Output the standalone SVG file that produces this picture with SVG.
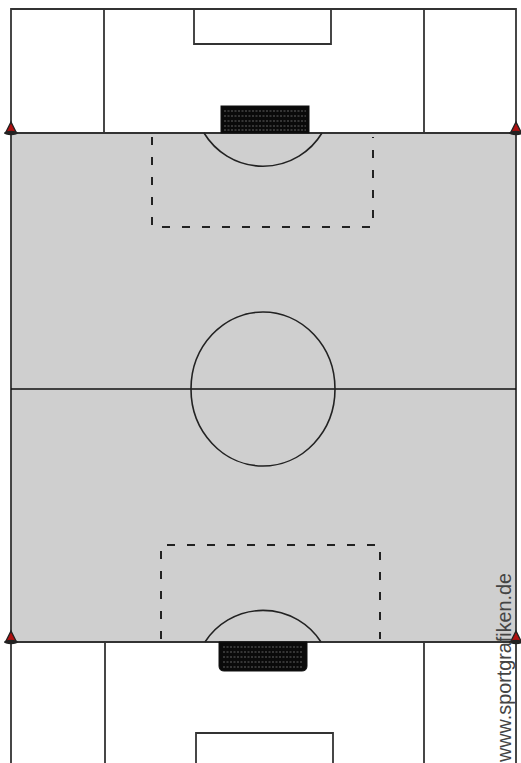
<svg xmlns="http://www.w3.org/2000/svg" width="521" height="763" viewBox="0 0 521 763">
<style>
.ln{fill:none;stroke:#333;stroke-width:1.8}
.ds{fill:none;stroke:#222;stroke-width:2;stroke-dasharray:8 12}
.arc{fill:none;stroke:#222;stroke-width:1.6}
.goal{fill:#0a0a0a;stroke:#111;stroke-width:1}
.net{stroke:#777;stroke-width:0.8;stroke-dasharray:2 1.5}
.cone{fill:#b01010;stroke:#222;stroke-width:1.4}
</style>
<defs>
<g id="coneShape">
<path class="cone" d="M-5.5,4 L0,-7 L5.5,4 Z"/>
<ellipse cx="0" cy="4" rx="7" ry="2.2" fill="#222"/>
</g>
</defs>
<rect width="521" height="763" fill="#fff"/>
<g id="field">
<rect x="11" y="133" width="505" height="509" fill="#cfcfcf"/>
<path class="ln" d="M11,763 V9 H516 V763"/>
<path class="ln" d="M11,133 H516 M11,642 H516"/>
<path class="ln" d="M104,9 V133 M424,9 V133 M105,642 V763 M424,642 V763"/>
<path class="ln" d="M194,9 V44 H331 V9"/>
<path class="ln" d="M196,763 V733 H333 V763"/>
<line x1="11" y1="389" x2="516" y2="389" stroke="#111" stroke-width="1.6"/>
<ellipse cx="263" cy="389" rx="72" ry="77" class="arc"/>
</g>
<g id="top-box">
<path class="ds" d="M152,137 V227 H373 V137"/>
<path class="arc" d="M204,133 A69,69 0 0 0 322,133"/>
</g>
<g id="bottom-box">
<path class="ds" d="M161,639 V545 H380 V639"/>
<path class="arc" d="M205,642 A69,69 0 0 1 321,642"/>
</g>
<g id="top-goal">
<rect class="goal" x="221" y="106" width="88" height="27"/>
<path class="net" d="M224,111 H306 M224,116 H306 M224,121 H306 M224,126 H306 M224,130 H306"/>
</g>
<g id="bottom-goal">
<path class="goal" d="M219,642 H307 V666 Q307,671 302,671 H224 Q219,671 219,666 Z"/>
<path class="net" d="M223,647 H303 M223,652 H303 M223,657 H303 M223,662 H303 M223,667 H303"/>
</g>
<g id="cones">
<use href="#coneShape" x="11" y="129"/>
<use href="#coneShape" x="516" y="129"/>
<use href="#coneShape" x="11" y="638"/>
<use href="#coneShape" x="516" y="638"/>
</g>
<g id="credit">
<text transform="translate(511,762) rotate(-90)" font-family="Liberation Sans, Arial, sans-serif" font-size="19.8" fill="#444">www.sportgrafiken.de</text>
</g>
</svg>
